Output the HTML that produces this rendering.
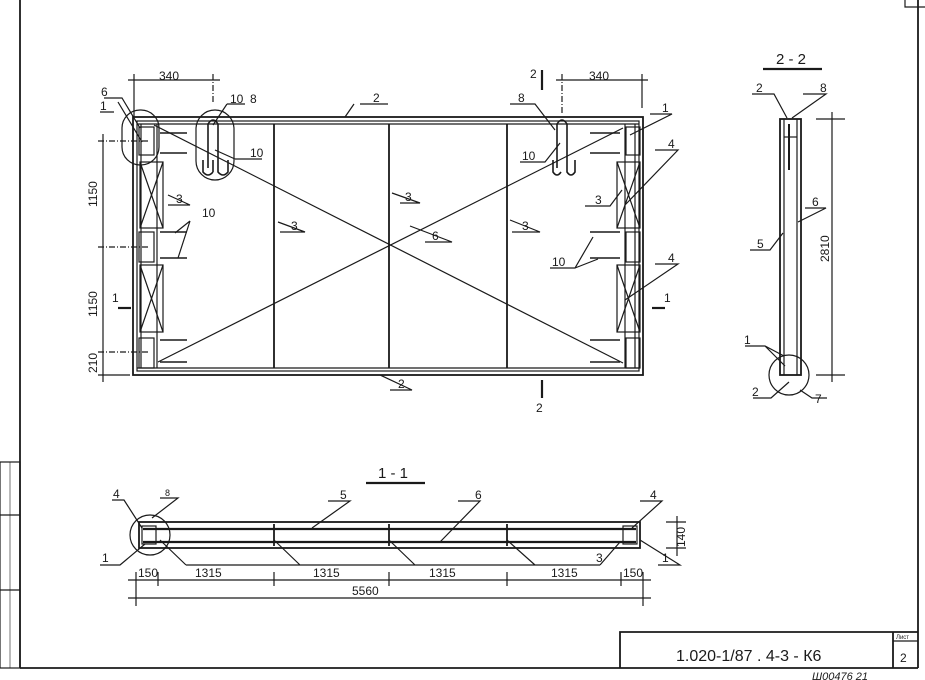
<!DOCTYPE html>
<html><head><meta charset="utf-8"><style>
html,body{margin:0;padding:0;background:#fff;}
svg{display:block;}
text{font-family:"Liberation Sans","DejaVu Sans",sans-serif;fill:#1a1a1a;}
</style></head><body>
<svg width="925" height="680" viewBox="0 0 925 680" xmlns="http://www.w3.org/2000/svg">
<g stroke="#1a1a1a" fill="none" stroke-width="1.2">
<line x1="20" y1="0" x2="20" y2="668" stroke-width="1.8"/>
<line x1="20" y1="668" x2="918" y2="668" stroke-width="1.8"/>
<line x1="918" y1="0" x2="918" y2="668" stroke-width="1.8"/>
<polyline points="905,0 905,7 925,7"/>
<rect x="0" y="462" width="20" height="206"/>
<line x1="0" y1="515" x2="20" y2="515"/><line x1="0" y1="590" x2="20" y2="590"/>
<line x1="10" y1="462" x2="10" y2="668" stroke-width="0.6"/>

<rect x="133" y="117" width="510" height="258" stroke-width="1.8"/>
<rect x="137" y="121" width="502" height="250"/>
<line x1="137" y1="124" x2="639" y2="124"/>
<line x1="137" y1="368" x2="639" y2="368"/>
<line x1="274" y1="124" x2="274" y2="368" stroke-width="1.8"/>
<line x1="389" y1="124" x2="389" y2="368" stroke-width="1.8"/>
<line x1="507" y1="124" x2="507" y2="368" stroke-width="1.8"/>
<line x1="154" y1="125" x2="623" y2="363"/>
<line x1="158" y1="362" x2="623" y2="128"/>
<line x1="141" y1="124" x2="141" y2="368"/><line x1="157" y1="124" x2="157" y2="368"/>
<rect x="139" y="127" width="15" height="28"/><rect x="139" y="232" width="15" height="30"/><rect x="139" y="338" width="15" height="30"/>
<rect x="140" y="162" width="23" height="66"/><line x1="140" y1="162" x2="163" y2="228"/><line x1="163" y1="162" x2="140" y2="228"/>
<rect x="140" y="265" width="23" height="67"/><line x1="140" y1="265" x2="163" y2="332"/><line x1="163" y1="265" x2="140" y2="332"/>
<g stroke-width="1.6"><line x1="160" y1="133" x2="187" y2="133"/><line x1="160" y1="153" x2="187" y2="153"/><line x1="160" y1="232" x2="187" y2="232"/><line x1="160" y1="258" x2="187" y2="258"/><line x1="160" y1="340" x2="187" y2="340"/><line x1="160" y1="362" x2="187" y2="362"/></g>
<line x1="635" y1="124" x2="635" y2="368"/><line x1="625" y1="124" x2="625" y2="368"/>
<rect x="626" y="127" width="14" height="28"/><rect x="626" y="232" width="14" height="30"/><rect x="626" y="338" width="14" height="30"/>
<rect x="617" y="162" width="23" height="66"/><line x1="617" y1="162" x2="640" y2="228"/><line x1="640" y1="162" x2="617" y2="228"/>
<rect x="617" y="265" width="23" height="67"/><line x1="617" y1="265" x2="640" y2="332"/><line x1="640" y1="265" x2="617" y2="332"/>
<g stroke-width="1.6"><line x1="590" y1="133" x2="620" y2="133"/><line x1="590" y1="153" x2="620" y2="153"/><line x1="590" y1="232" x2="620" y2="232"/><line x1="590" y1="258" x2="620" y2="258"/><line x1="590" y1="340" x2="620" y2="340"/><line x1="590" y1="362" x2="620" y2="362"/></g>
<rect x="196" y="110" width="38" height="70" rx="19"/>
<path d="M208,168 L208,124 Q213,116 218,124 L218,168 M203,160 L203,172 Q208,178 213,172 M213,160 L213,172 M218,160 L218,172 Q223,178 228,172 L228,160" stroke-width="1.6"/>
<rect x="122" y="110" width="37" height="55" rx="18"/>
<path d="M557,168 L557,124 Q562,116 567,124 L567,168 M553,160 L553,172 Q557,178 561,172 M567,160 L567,172 Q571,178 575,172 L575,160" stroke-width="1.6"/>
<line x1="128" y1="80" x2="220" y2="80"/><line x1="134" y1="74" x2="134" y2="117"/><line x1="213" y1="74" x2="213" y2="104" stroke-dasharray="6,2,1,2"/>
<line x1="556" y1="80" x2="648" y2="80"/><line x1="562" y1="74" x2="562" y2="115" stroke-dasharray="6,2,1,2"/><line x1="642" y1="74" x2="642" y2="108"/>
<line x1="103" y1="134" x2="103" y2="382"/>
<line x1="98" y1="141" x2="150" y2="141" stroke-dasharray="6,2,1,2"/><line x1="98" y1="247" x2="150" y2="247" stroke-dasharray="6,2,1,2"/><line x1="98" y1="352" x2="150" y2="352" stroke-dasharray="6,2,1,2"/><line x1="98" y1="375" x2="130" y2="375"/>
<line x1="118" y1="308" x2="131" y2="308" stroke-width="2.2"/><line x1="652" y1="308" x2="665" y2="308" stroke-width="2.2"/>
<line x1="542" y1="70" x2="542" y2="90" stroke-width="2.2"/><line x1="542" y1="380" x2="542" y2="398" stroke-width="2.2"/>
<path d="M104,98 L122,98 L140,128 M114,112 L100,112 M118,102 L142,142 M360,104 L388,104 M354,104 L345,117 M227,104 L245,104 M227,104 L213,125 M235,159 L262,159 M235,159 L215,150 M168,205 L190,205 L168,195 M280,232 L305,232 L278,222 M400,203 L420,203 L392,193 M425,242 L452,242 L410,226 M512,232 L540,232 L510,220 M190,221 L175,233 M190,221 L178,258 M510,104 L535,104 L555,130 M520,162 L545,162 L560,143 M650,114 L672,114 L630,135 M585,206 L610,206 L622,190 M655,150 L678,150 L625,205 M550,268 L575,268 L593,237 M575,268 L598,259 M655,264 L678,264 L625,300 M390,390 L412,390 L380,375"/>
<line x1="763" y1="69" x2="822" y2="69" stroke-width="2.2"/>
<rect x="780" y="119" width="21" height="256" stroke-width="1.8"/>
<line x1="784" y1="119" x2="784" y2="375"/><line x1="797" y1="119" x2="797" y2="375"/>
<line x1="789" y1="124" x2="789" y2="170" stroke-width="2"/>
<line x1="784" y1="137" x2="797" y2="137"/>
<line x1="816" y1="119" x2="845" y2="119"/><line x1="816" y1="375" x2="845" y2="375"/>
<line x1="832" y1="112" x2="832" y2="382"/>
<circle cx="789" cy="375" r="20"/>
<path d="M752,94 L774,94 L787,118 M803,94 L826,94 L792,118 M805,208 L826,208 L798,222 M750,250 L770,250 L783,233 M745,346 L765,346 L784,356 M765,346 L785,366 M753,398 L771,398 L789,382 M800,390 L812,398 L827,398"/>
<line x1="366" y1="483" x2="425" y2="483" stroke-width="2.2"/>
<rect x="139" y="522" width="501" height="26" stroke-width="1.8"/>
<line x1="143" y1="529" x2="636" y2="529" stroke-width="2.2"/>
<line x1="143" y1="542" x2="636" y2="542" stroke-width="2.2"/>
<line x1="274" y1="524" x2="274" y2="546" stroke-width="1.8"/><line x1="389" y1="524" x2="389" y2="546" stroke-width="1.8"/><line x1="507" y1="524" x2="507" y2="546" stroke-width="1.8"/>
<rect x="142" y="526" width="14" height="18"/><rect x="623" y="526" width="14" height="18"/>
<circle cx="150" cy="535" r="20"/>
<path d="M112,500 L124,500 L142,528 M160,498 L178,498 L152,518 M328,501 L350,501 L312,528 M458,501 L480,501 L440,542 M640,501 L662,501 L632,528 M100,565 L120,565 L145,544 M658,565 L680,565 L640,540 M186,565 L600,565 M160,540 L186,565 M274,540 L300,565 M389,540 L415,565 M507,540 L535,565 M620,542 L600,565"/>
<line x1="666" y1="522" x2="686" y2="522"/><line x1="666" y1="548" x2="686" y2="548"/><line x1="677" y1="516" x2="677" y2="556"/>
<line x1="128" y1="580" x2="651" y2="580"/><line x1="128" y1="598" x2="651" y2="598"/>
<g><line x1="136" y1="572" x2="136" y2="606"/><line x1="158" y1="572" x2="158" y2="586"/><line x1="274" y1="572" x2="274" y2="586"/><line x1="389" y1="572" x2="389" y2="586"/><line x1="507" y1="572" x2="507" y2="586"/><line x1="621" y1="572" x2="621" y2="586"/><line x1="643" y1="572" x2="643" y2="606"/></g>
<polyline points="620,668 620,632 918,632" stroke-width="1.8"/>
<line x1="893" y1="632" x2="893" y2="668" stroke-width="1.8"/>
<line x1="893" y1="641" x2="918" y2="641"/>
</g>
<g font-size="12">
<text x="159" y="80">340</text><text x="589" y="80">340</text>
<text x="101" y="96">6</text><text x="100" y="110">1</text><text x="230" y="103">10</text><text x="250" y="103">8</text>
<text x="373" y="102">2</text><text x="250" y="157">10</text><text x="176" y="203">3</text><text x="202" y="217">10</text>
<text x="291" y="230">3</text><text x="405" y="201">3</text><text x="432" y="240">6</text><text x="522" y="230">3</text>
<text x="518" y="102">8</text><text x="522" y="160">10</text><text x="662" y="112">1</text><text x="668" y="148">4</text>
<text x="595" y="204">3</text><text x="552" y="266">10</text><text x="668" y="262">4</text><text x="398" y="388">2</text>
<text x="530" y="78">2</text><text x="536" y="412">2</text><text x="112" y="302">1</text><text x="664" y="302">1</text>
<text x="97" y="207" transform="rotate(-90 97 207)">1150</text>
<text x="97" y="317" transform="rotate(-90 97 317)">1150</text>
<text x="97" y="373" transform="rotate(-90 97 373)">210</text>
<text x="756" y="92">2</text><text x="820" y="92">8</text><text x="812" y="206">6</text><text x="757" y="248">5</text>
<text x="744" y="344">1</text><text x="752" y="396">2</text><text x="815" y="403">7</text>
<text x="829" y="262" transform="rotate(-90 829 262)">2810</text>
<text x="113" y="498">4</text><text x="165" y="496" font-size="9">8</text><text x="340" y="499">5</text><text x="475" y="499">6</text><text x="650" y="499">4</text>
<text x="102" y="562">1</text><text x="662" y="562">1</text><text x="596" y="562">3</text>
<text x="685" y="547" transform="rotate(-90 685 547)">140</text>
<text x="138" y="577">150</text><text x="195" y="577">1315</text><text x="313" y="577">1315</text><text x="429" y="577">1315</text><text x="551" y="577">1315</text><text x="623" y="577">150</text>
<text x="352" y="595">5560</text>
</g>
<text x="776" y="64" font-size="15">2 - 2</text>
<text x="378" y="478" font-size="15">1 - 1</text>
<text x="676" y="661" font-size="16">1.020-1/87 . 4-3 - К6</text>
<text x="896" y="639" font-size="6">Лист</text>
<text x="900" y="662" font-size="12">2</text>
<text x="812" y="680" font-size="11" font-style="italic">Ш00476 21</text>
</svg>
</body></html>
